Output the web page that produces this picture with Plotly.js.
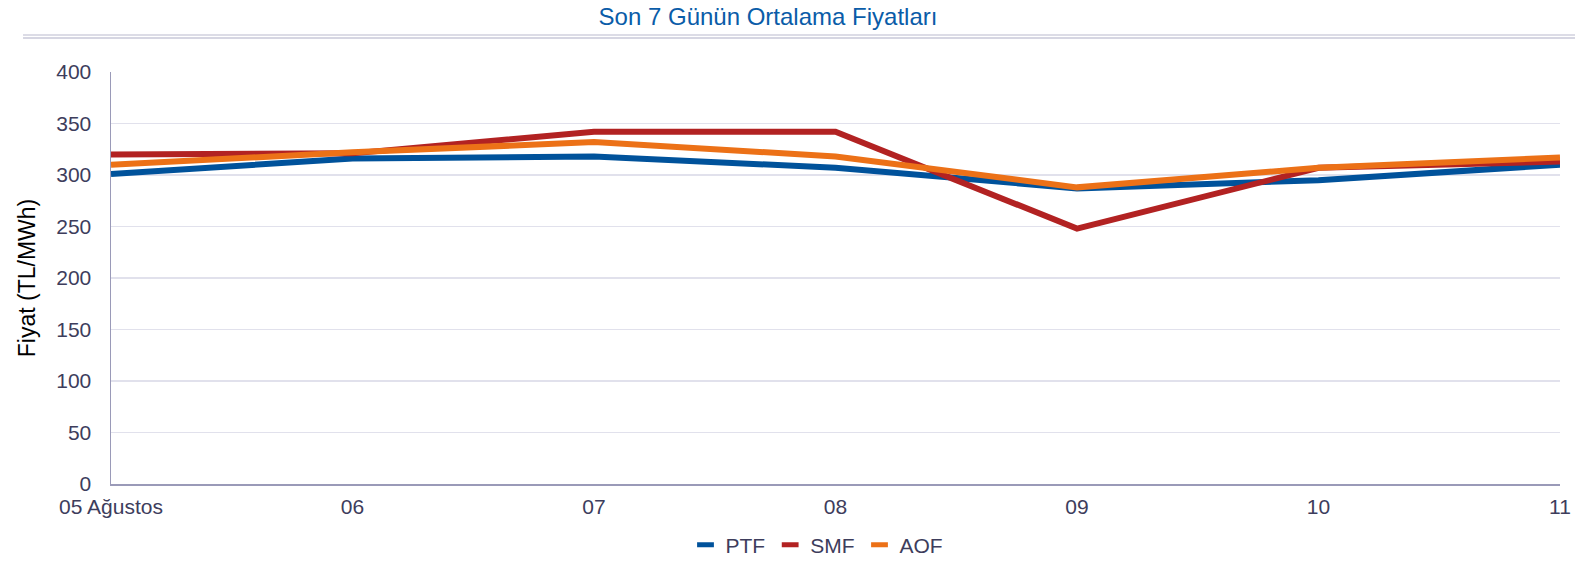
<!DOCTYPE html>
<html>
<head>
<meta charset="utf-8">
<script src="https://cdn.plot.ly/plotly-3.0.1.min.js"></script>
<style>html,body{margin:0;padding:0;background:#fff;}#chart{width:1575px;height:562px;}</style>
</head>
<body>
<div id="chart"></div>
<script>
const days = ["05 Ağustos", "06", "07", "08", "09", "10", "11"];
const ptf = [301, 316, 318, 307, 287, 295, 310];
const smf = [320, 321, 342, 342, 248, 307, 313];
const aof = [310, 322, 332, 318, 288, 307, 317];
const seriesNames = ["PTF", "SMF", "AOF"];
const colors = ["#00529b", "#b22222", "#ec7117"];

const font = "Liberation Sans, Arial, sans-serif";
const lines = [ptf, smf, aof].map((v, i) => ({
  x: days, y: v, type: "scatter", mode: "lines", name: seriesNames[i],
  line: {color: colors[i], width: 6}, showlegend: false, legendgroup: seriesNames[i]
}));
// legend-only entries with short rectangular keys
const keys = seriesNames.map((n, i) => ({
  x: [null], y: [null], type: "scatter", mode: "markers", name: n, legendgroup: n,
  marker: {symbol: "line-ew", size: 12, color: colors[i], line: {color: colors[i], width: 6}}
}));

const layout = {
  width: 1575, height: 562,
  margin: {l: 111, r: 15, t: 72, b: 78},
  paper_bgcolor: "#fff", plot_bgcolor: "#fff",
  font: {family: font, color: "#3d3d5c", size: 21},
  title: {text: "Son 7 Günün Ortalama Fiyatları", font: {family: font, size: 24, color: "#0a5ca8"},
    xref: "container", x: 768/1575, xanchor: "center", yref: "container", y: 1 - 17/562, yanchor: "middle"},
  xaxis: {type: "category", range: [0, 6], showgrid: false, showline: true, linecolor: "#9a9ab8", linewidth: 2,
    ticks: "", tickfont: {size: 21, color: "#3d3d5c"}, zeroline: false, ticklabelstandoff: 3},
  yaxis: {range: [0, 400], dtick: 50, showgrid: true, gridcolor: "#e1e1ec", gridwidth: 1.5,
    showline: true, linecolor: "#9a9ab8", linewidth: 1.5, zeroline: false, ticks: "",
    tickfont: {size: 21, color: "#3d3d5c"}, ticklabelstandoff: 14,
    title: {text: "Fiyat (TL/MWh)", font: {size: 23, color: "#000"}, standoff: 14}},
  showlegend: true,
  legend: {orientation: "h", xref: "container", x: 817/1575, xanchor: "center", yref: "container", y: 1 - 545/562, yanchor: "middle",
    font: {size: 21, color: "#3d3d5c"}, itemwidth: 30, tracegroupgap: 0},
  shapes: [
    {type: "line", xref: "paper", yref: "paper", x0: -0.0607, x1: 1.0104, y0: (484-35)/412, y1: (484-35)/412, line: {color: "#dcdce6", width: 2}},
    {type: "line", xref: "paper", yref: "paper", x0: -0.0607, x1: 1.0104, y0: (484-38)/412, y1: (484-38)/412, line: {color: "#c8c8d8", width: 1.5}}
  ]
};
Plotly.newPlot("chart", lines.concat(keys), layout, {displayModeBar: false, staticPlot: true});
</script>
</body>
</html>
